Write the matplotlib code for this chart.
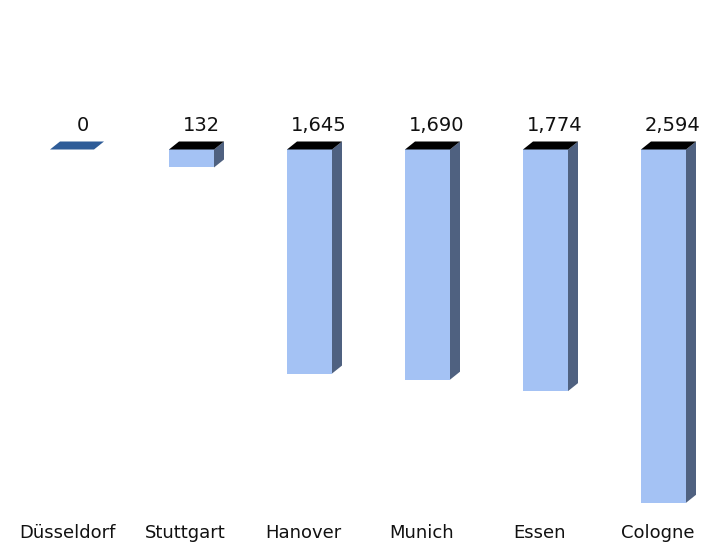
import matplotlib
matplotlib.use("Agg")
import matplotlib.pyplot as plt
from matplotlib.patches import Polygon

categories = ["Düsseldorf", "Stuttgart", "Hanover", "Munich", "Essen", "Cologne"]
values = [0, 132, 1645, 1690, 1774, 2594]
value_labels = ["0", "132", "1,645", "1,690", "1,774", "2,594"]

FRONT = "#A4C2F4"
SIDE = "#4F6180"
TOP = "#000000"
ZERO = "#2E5C98"

W, H = 708, 546
fig = plt.figure(figsize=(W / 100, H / 100), dpi=100)
ax = fig.add_axes([0, 0, 1, 1])
ax.set_axis_off()

# pixel layout
x0_px, step_px = 73.5, 118.0
y0_px, px_per_unit = 149.5, 0.1362
ax.set_xlim(-x0_px / step_px, (W - x0_px) / step_px)
ax.set_ylim((H - y0_px) / px_per_unit, -y0_px / px_per_unit)

def dx(px):
    return px / step_px

def dy(px):
    return px / px_per_unit

half = dx(22.5)
depth_x = dx(10)
depth_y = dy(8)

for i, (v, lab) in enumerate(zip(values, value_labels)):
    l, r = i - half, i + half
    if v == 0:
        ax.add_patch(Polygon([(l - dx(1), 0), (r - dx(2), 0), (r - dx(2) + depth_x, -depth_y),
                              (l - dx(1) + depth_x, -depth_y)], closed=True,
                             facecolor=ZERO, edgecolor="none"))
    else:
        ax.add_patch(Polygon([(l, 0), (r, 0), (r, v), (l, v)], closed=True,
                             facecolor=FRONT, edgecolor="none"))
        ax.add_patch(Polygon([(r, 0), (r + depth_x, -depth_y), (r + depth_x, v - depth_y), (r, v)],
                             closed=True, facecolor=SIDE, edgecolor="none"))
        ax.add_patch(Polygon([(l, 0), (r, 0), (r + depth_x, -depth_y), (l + depth_x, -depth_y)],
                             closed=True, facecolor=TOP, edgecolor="none"))
    ax.text(i + dx(9.5), -dy(18), lab, ha="center", va="baseline",
            fontsize=14, family="DejaVu Sans", color="#111111")
    ax.text(i - dx(6), dy(533 - y0_px), categories[i], ha="center", va="center",
            fontsize=13, family="DejaVu Sans", color="#111111")

fig.savefig("out.png", dpi=100)
